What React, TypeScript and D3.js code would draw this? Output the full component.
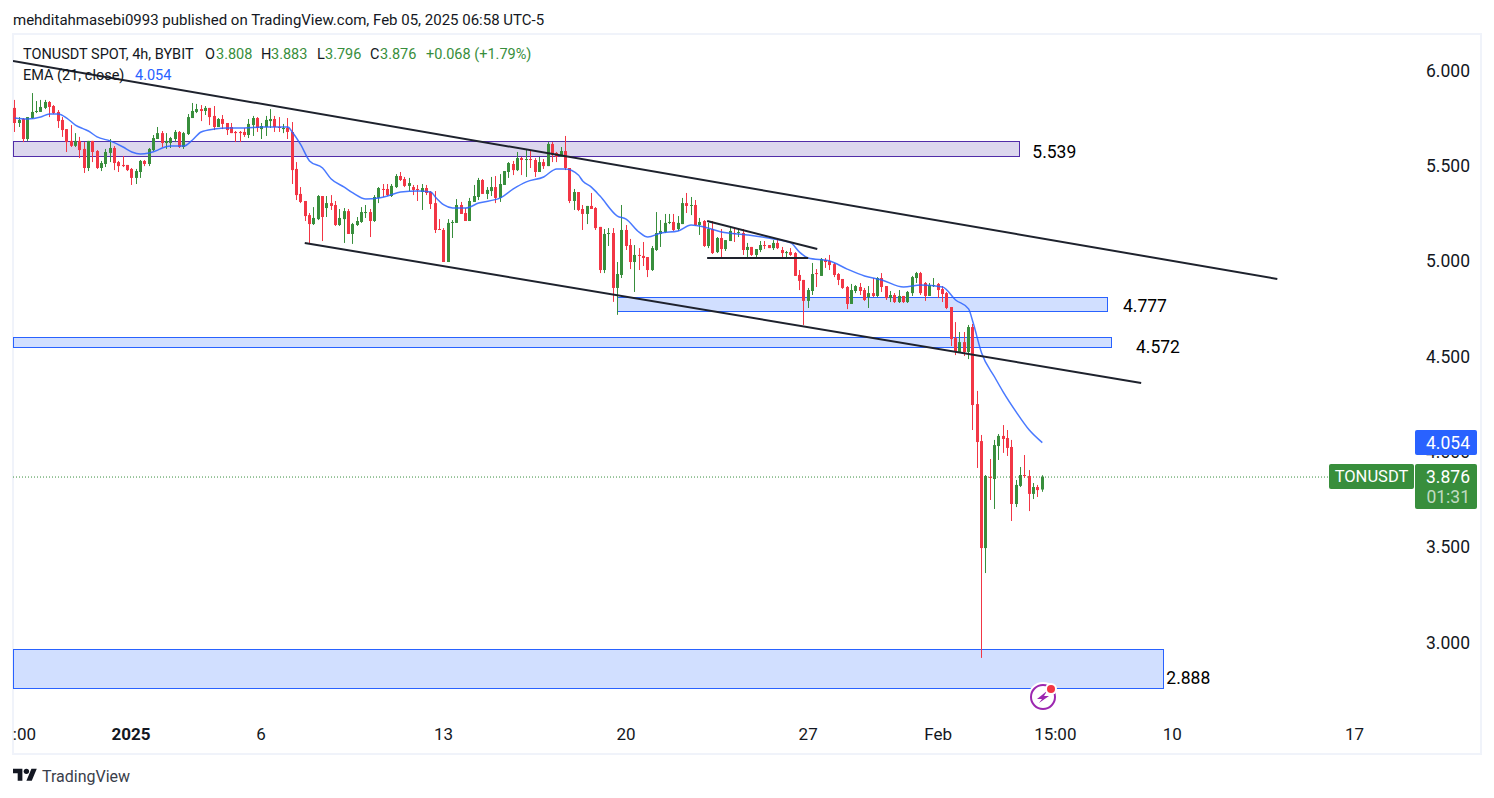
import { useEffect, useRef } from "react";
import * as d3 from "d3";

const opens = [5.809,5.730,5.751,5.646,5.756,5.788,5.788,5.809,5.840,5.819,5.788,5.746,5.698,5.636,5.610,5.636,5.594,5.494,5.636,5.583,5.494,5.515,5.573,5.599,5.525,5.510,5.510,5.489,5.442,5.473,5.531,5.515,5.588,5.646,5.677,5.625,5.625,5.646,5.683,5.604,5.672,5.756,5.788,5.803,5.793,5.809,5.767,5.709,5.751,5.730,5.709,5.683,5.683,5.683,5.667,5.719,5.756,5.698,5.709,5.740,5.751,5.709,5.698,5.704,5.683,5.489,5.358,5.321,5.247,5.200,5.226,5.347,5.284,5.310,5.300,5.195,5.226,5.268,5.148,5.195,5.211,5.258,5.263,5.216,5.337,5.384,5.384,5.347,5.394,5.452,5.436,5.400,5.394,5.384,5.368,5.389,5.368,5.310,5.174,5.169,5.001,5.206,5.206,5.300,5.258,5.216,5.316,5.342,5.431,5.358,5.373,5.394,5.337,5.405,5.473,5.515,5.483,5.546,5.536,5.541,5.536,5.473,5.525,5.504,5.620,5.573,5.552,5.583,5.494,5.321,5.368,5.279,5.253,5.295,5.284,5.185,4.959,5.148,5.153,4.865,4.933,5.169,5.090,5.001,5.038,5.033,5.027,4.959,5.064,5.148,5.158,5.206,5.211,5.174,5.200,5.310,5.298,5.300,5.195,5.216,5.085,5.174,5.053,5.127,5.069,5.111,5.153,5.153,5.153,5.064,5.080,5.038,5.064,5.090,5.090,5.074,5.101,5.064,5.048,5.053,5.048,4.933,4.907,4.797,4.849,4.943,4.928,5.012,5.006,4.990,4.938,4.912,4.870,4.781,4.849,4.870,4.854,4.817,4.838,4.823,4.917,4.875,4.812,4.828,4.791,4.823,4.791,4.838,4.917,4.943,4.891,4.823,4.875,4.886,4.859,4.838,4.765,4.602,4.529,4.581,4.529,4.660,4.256,4.062,3.501,3.874,3.863,4.036,4.089,4.078,4.031,3.732,3.827,3.884,3.879,3.785,3.821,3.808];
const highs = [5.851,5.761,5.756,5.761,5.887,5.845,5.851,5.851,5.845,5.824,5.798,5.761,5.698,5.719,5.677,5.657,5.630,5.636,5.636,5.588,5.531,5.594,5.646,5.609,5.531,5.557,5.510,5.494,5.489,5.536,5.536,5.599,5.667,5.709,5.688,5.677,5.657,5.693,5.688,5.683,5.777,5.835,5.830,5.824,5.819,5.809,5.819,5.756,5.772,5.730,5.730,5.688,5.688,5.704,5.751,5.767,5.761,5.730,5.767,5.803,5.767,5.761,5.725,5.756,5.735,5.525,5.394,5.321,5.258,5.289,5.352,5.347,5.347,5.352,5.321,5.279,5.284,5.279,5.206,5.237,5.289,5.300,5.279,5.352,5.394,5.410,5.410,5.410,5.462,5.473,5.447,5.442,5.405,5.405,5.410,5.405,5.373,5.373,5.226,5.179,5.226,5.221,5.331,5.316,5.284,5.337,5.405,5.442,5.436,5.394,5.447,5.452,5.462,5.478,5.525,5.531,5.578,5.552,5.588,5.583,5.546,5.552,5.541,5.630,5.630,5.578,5.604,5.662,5.494,5.384,5.368,5.300,5.295,5.363,5.289,5.185,5.174,5.179,5.179,5.001,5.300,5.195,5.122,5.090,5.074,5.106,5.027,5.085,5.263,5.221,5.253,5.253,5.253,5.242,5.337,5.363,5.342,5.326,5.232,5.221,5.206,5.216,5.132,5.174,5.116,5.185,5.179,5.174,5.174,5.101,5.080,5.069,5.111,5.111,5.090,5.116,5.116,5.080,5.059,5.074,5.053,4.959,4.907,4.865,4.996,4.964,5.022,5.022,5.038,4.996,4.943,4.912,4.875,4.886,4.880,4.891,4.865,4.875,4.917,4.922,4.943,4.875,4.849,4.838,4.854,4.823,4.849,4.928,4.949,4.949,4.896,4.891,4.917,4.891,4.875,4.844,4.765,4.686,4.634,4.634,4.671,4.676,4.325,4.094,3.884,3.968,4.068,4.099,4.146,4.120,4.068,3.858,3.926,3.989,3.910,3.842,3.832,3.883];
const lows = [5.683,5.709,5.630,5.636,5.751,5.782,5.788,5.803,5.761,5.777,5.704,5.657,5.578,5.604,5.604,5.546,5.468,5.478,5.525,5.489,5.478,5.499,5.525,5.483,5.473,5.499,5.478,5.405,5.410,5.442,5.504,5.504,5.583,5.646,5.604,5.594,5.599,5.630,5.599,5.594,5.667,5.756,5.782,5.740,5.772,5.719,5.693,5.709,5.698,5.667,5.677,5.630,5.630,5.657,5.651,5.662,5.683,5.646,5.662,5.704,5.683,5.683,5.677,5.646,5.410,5.326,5.310,5.216,5.101,5.195,5.221,5.111,5.237,5.274,5.190,5.190,5.101,5.148,5.096,5.190,5.206,5.232,5.132,5.211,5.310,5.342,5.347,5.342,5.389,5.426,5.394,5.373,5.352,5.321,5.274,5.352,5.279,5.153,5.169,5.001,5.001,5.127,5.206,5.253,5.216,5.216,5.316,5.326,5.358,5.331,5.347,5.310,5.316,5.405,5.442,5.457,5.478,5.457,5.447,5.494,5.447,5.473,5.489,5.504,5.525,5.525,5.552,5.483,5.310,5.274,5.268,5.169,5.200,5.279,5.169,4.943,4.943,5.085,4.792,4.724,4.917,5.064,4.964,4.844,4.959,4.980,4.922,4.954,5.059,5.080,5.153,5.200,5.164,5.164,5.200,5.258,5.247,5.190,5.143,5.080,5.074,5.043,5.048,5.022,5.059,5.111,5.106,5.132,5.038,5.017,5.033,5.022,5.053,5.069,5.074,5.064,5.069,5.027,5.022,5.033,4.928,4.854,4.671,4.760,4.828,4.870,4.928,4.970,4.959,4.922,4.880,4.860,4.754,4.781,4.838,4.828,4.797,4.760,4.817,4.817,4.844,4.802,4.791,4.786,4.786,4.786,4.786,4.823,4.891,4.828,4.797,4.823,4.870,4.812,4.791,4.754,4.560,4.513,4.524,4.508,4.492,4.120,3.921,2.925,3.370,3.753,3.706,3.963,4.000,3.984,3.643,3.716,3.821,3.869,3.695,3.758,3.769,3.796];
const closes = [5.730,5.746,5.646,5.761,5.788,5.793,5.814,5.840,5.814,5.782,5.740,5.693,5.630,5.610,5.636,5.588,5.494,5.636,5.578,5.494,5.520,5.578,5.599,5.520,5.504,5.504,5.483,5.442,5.478,5.531,5.515,5.594,5.651,5.677,5.625,5.636,5.651,5.683,5.604,5.677,5.761,5.793,5.803,5.793,5.809,5.761,5.709,5.751,5.725,5.693,5.677,5.677,5.677,5.667,5.725,5.756,5.704,5.714,5.746,5.751,5.709,5.704,5.704,5.683,5.483,5.352,5.316,5.242,5.200,5.232,5.347,5.237,5.310,5.295,5.195,5.232,5.268,5.148,5.200,5.216,5.263,5.263,5.216,5.342,5.389,5.379,5.352,5.400,5.452,5.431,5.400,5.415,5.379,5.379,5.389,5.363,5.305,5.169,5.169,5.001,5.206,5.211,5.300,5.253,5.216,5.321,5.347,5.431,5.358,5.379,5.394,5.337,5.410,5.478,5.520,5.483,5.546,5.536,5.541,5.536,5.473,5.525,5.504,5.620,5.562,5.552,5.583,5.494,5.321,5.368,5.274,5.253,5.295,5.279,5.179,4.959,5.148,5.153,4.865,4.938,5.169,5.085,5.001,5.038,5.033,5.022,4.959,5.074,5.153,5.164,5.206,5.211,5.169,5.206,5.310,5.295,5.300,5.195,5.211,5.085,5.174,5.048,5.127,5.069,5.116,5.164,5.150,5.158,5.064,5.080,5.038,5.069,5.090,5.085,5.074,5.101,5.074,5.048,5.053,5.038,4.928,4.902,4.797,4.854,4.938,4.938,5.017,5.001,4.985,4.933,4.907,4.865,4.781,4.854,4.875,4.849,4.802,4.838,4.823,4.917,4.870,4.812,4.828,4.791,4.823,4.791,4.844,4.922,4.943,4.838,4.823,4.880,4.880,4.854,4.833,4.760,4.597,4.529,4.581,4.529,4.660,4.251,4.057,3.501,3.879,3.869,4.041,4.089,4.073,4.026,3.732,3.832,3.884,3.879,3.785,3.821,3.805,3.876];

// EMA(21) at these bars
const emaBars = [0,3,6,8,10,12,14,16,17,19,22,25,27,29,31,33,34,36,39,41,43,46,49,53,57,63,64,66,68,71,73,76,78,81,84,86,89,93,96,97,99,101,104,107,112,115,118,122,125,127,130,131,133,135,139,141,144,146,149,153,156,159,163,169,175,179,181,183,188,192,196,200,205,209,214,217,220,221,223,226,228,231,234,237];
const emaValues = [5.756,5.751,5.761,5.777,5.777,5.756,5.719,5.698,5.688,5.657,5.636,5.604,5.578,5.567,5.573,5.588,5.599,5.609,5.609,5.641,5.683,5.698,5.704,5.704,5.709,5.709,5.683,5.615,5.531,5.494,5.436,5.394,5.363,5.331,5.337,5.347,5.368,5.373,5.368,5.342,5.300,5.284,5.284,5.310,5.337,5.384,5.421,5.447,5.489,5.489,5.457,5.426,5.394,5.347,5.242,5.226,5.158,5.132,5.153,5.164,5.195,5.185,5.158,5.143,5.122,5.101,5.053,5.022,5.006,4.964,4.928,4.907,4.870,4.880,4.870,4.802,4.755,4.686,4.524,4.398,4.319,4.214,4.120,4.054];

const priceTicks = [6, 5.5, 5, 4.5, 4, 3.5, 3];
const timeTickLabels = ["15:00", "2025", "6", "13", "20", "27", "Feb", "15:00", "10", "17"];
const timeTickBars = [0.05, 26.8, 56.8, 98.9, 141, 183, 213, 240, 267, 309];

// x1, price1, x2, price2 in bars
const trendLines = [
  [-0.4, 6.055, 291.2, 4.912],
  [66.9, 5.101, 259.8, 4.367],
  [159.7, 5.216, 185.1, 5.069],
  [159.7, 5.022, 183, 5.022],
];

const zoneFrom = [-0.4, 139, -0.4, -0.4];
const zoneTo = [231.7, 251.9, 252.9, 264.9];
const zoneTop = [5.633, 4.815, 4.608, 2.972];
const zoneBottom = [5.554, 4.739, 4.553, 2.768];
const zoneFill = ["#dcd7ee", "#d1dfff", "#d1dfff", "#d1dfff"];
const zoneStroke = ["#512da8", "#2962ff", "#2962ff", "#2962ff"];

const levelLabels = ["5.539", "4.777", "4.572", "2.888"];
const levelBars = [234.7, 255.6, 258.6, 265.6];
const levelPrices = [5.571, 4.764, 4.55, 2.814];

const UP = "#388e3c";
const DOWN = "#f23645";
const EMA = "#2962ff";
const INK = "#131722";
const FONT = "Roboto, sans-serif";

function App() {
  const svgRef = useRef<SVGSVGElement | null>(null);

  useEffect(() => {
    const svg = d3.select(svgRef.current);
    svg.selectAll("*").remove();

    const xScale = d3.scaleLinear().domain([0, 237]).range([14.7, 1042.3]);
    const yScale = d3.scaleLinear().domain([6, 3]).range([71.5, 643.6]);
    const paneLeft = 13;
    const paneRight = 1414;

    const defs = svg.append("defs");
    defs.append("clipPath").attr("id", "pane-clip")
      .append("rect").attr("x", paneLeft).attr("y", 35).attr("width", paneRight - paneLeft).attr("height", 718);
    defs.append("clipPath").attr("id", "axis-clip")
      .append("rect").attr("x", paneLeft).attr("y", 720).attr("width", 1400).attr("height", 33);

    svg.append("rect").attr("width", 1494).attr("height", 798).attr("fill", "#fff");

    // frame
    svg.append("rect").attr("x", 13).attr("y", 34).attr("width", 1468).attr("height", 720)
      .attr("fill", "none").attr("stroke", "#f0f3fa").attr("stroke-width", 2);

    svg.append("text").attr("x", 13).attr("y", 25)
      .attr("font-family", FONT).attr("font-size", 15).attr("fill", INK)
      .text("mehditahmasebi0993 published on TradingView.com, Feb 05, 2025 06:58 UTC-5");

    const pane = svg.append("g").attr("clip-path", "url(#pane-clip)");

    // zones sit under the candles
    zoneFrom.forEach((from, i) => {
      pane.append("rect")
        .attr("x", Math.round(xScale(from)) + 0.5)
        .attr("y", Math.round(yScale(zoneTop[i])) + 0.5)
        .attr("width", Math.round(xScale(zoneTo[i]) - xScale(from)))
        .attr("height", Math.round(yScale(zoneBottom[i]) - yScale(zoneTop[i])))
        .attr("fill", zoneFill[i])
        .attr("stroke", zoneStroke[i]).attr("stroke-width", 1);
    });

    // last price line
    pane.append("line")
      .attr("x1", paneLeft).attr("x2", 1330)
      .attr("y1", yScale(closes[closes.length - 1]) + 0.5).attr("y2", yScale(closes[closes.length - 1]) + 0.5)
      .attr("stroke", UP).attr("stroke-width", 1).attr("stroke-dasharray", "1 2");

    const candle = pane.selectAll("g.candle")
      .data(opens.map((o, i) => ({ i, o, h: highs[i], l: lows[i], c: closes[i] })))
      .join("g").attr("class", "candle")
      .attr("fill", d => (d.c >= d.o ? UP : DOWN));

    candle.append("rect")
      .attr("x", d => Math.floor(xScale(d.i)))
      .attr("y", d => yScale(d.h))
      .attr("width", 1)
      .attr("height", d => yScale(d.l) - yScale(d.h));

    candle.append("rect")
      .attr("x", d => Math.floor(xScale(d.i)) - 1)
      .attr("y", d => yScale(Math.max(d.o, d.c)))
      .attr("width", 3)
      .attr("height", d => Math.max(1, Math.abs(yScale(d.o) - yScale(d.c))));

    const emaLine = d3.line<number>()
      .x((_, i) => xScale(emaBars[i]))
      .y(d => yScale(d))
      .curve(d3.curveMonotoneX);

    pane.append("path")
      .attr("d", emaLine(emaValues))
      .attr("fill", "none").attr("stroke", EMA).attr("stroke-opacity", 0.85).attr("stroke-width", 1.5);

    pane.selectAll("line.trend")
      .data(trendLines)
      .join("line").attr("class", "trend")
      .attr("x1", d => xScale(d[0])).attr("y1", d => yScale(d[1]))
      .attr("x2", d => xScale(d[2])).attr("y2", d => yScale(d[3]))
      .attr("stroke", "#1e222d").attr("stroke-width", 2);

    levelLabels.forEach((label, i) => {
      svg.append("text")
        .attr("x", xScale(levelBars[i])).attr("y", yScale(levelPrices[i]))
        .attr("font-family", FONT).attr("font-size", 17.5).attr("fill", "#000")
        .attr("dominant-baseline", "middle")
        .text(label);
    });

    // legend
    const legendRow = (y: number, items: [string, number, string][]) => {
      items.forEach(([label, x, color]) => {
        svg.append("text").attr("x", x).attr("y", y)
          .attr("font-family", FONT).attr("font-size", 14.5).attr("fill", color).text(label);
      });
    };
    legendRow(59, [
      ["TONUSDT SPOT, 4h, BYBIT", 23, INK],
      ["O", 205, INK], ["3.808", 216, UP],
      ["H", 261, INK], ["3.883", 271, UP],
      ["L", 317, INK], ["3.796", 325, UP],
      ["C", 370, INK], ["3.876", 380, UP],
      ["+0.068 (+1.79%)", 426, UP],
    ]);
    legendRow(80, [
      ["EMA (21, close)", 23, INK],
      ["4.054", 135, EMA],
    ]);

    // price axis
    svg.selectAll("text.price-tick")
      .data(priceTicks)
      .join("text").attr("class", "price-tick")
      .attr("x", 1470).attr("y", d => yScale(d) + 0.5)
      .attr("text-anchor", "end").attr("dominant-baseline", "middle")
      .attr("font-family", FONT).attr("font-size", 17.5).attr("fill", INK)
      .text(d => d3.format(".3f")(d));

    svg.append("rect").attr("x", 1415).attr("y", 430).attr("width", 62).attr("height", 25).attr("rx", 2).attr("fill", EMA);
    svg.append("text").attr("x", 1470).attr("y", 444).attr("text-anchor", "end").attr("dominant-baseline", "middle")
      .attr("font-family", FONT).attr("font-size", 17.5).attr("fill", "#fff").text(d3.format(".3f")(4.054));

    svg.append("rect").attr("x", 1329).attr("y", 464).attr("width", 85).attr("height", 25).attr("rx", 2).attr("fill", UP);
    svg.append("text").attr("x", 1371.5).attr("y", 478).attr("text-anchor", "middle").attr("dominant-baseline", "middle")
      .attr("font-family", FONT).attr("font-size", 16.5).attr("fill", "#fff").text("TONUSDT");

    svg.append("rect").attr("x", 1415).attr("y", 464).attr("width", 62).attr("height", 45).attr("rx", 2).attr("fill", UP);
    svg.append("text").attr("x", 1470).attr("y", 478).attr("text-anchor", "end").attr("dominant-baseline", "middle")
      .attr("font-family", FONT).attr("font-size", 17.5).attr("fill", "#fff").text(d3.format(".3f")(3.876));
    svg.append("text").attr("x", 1470).attr("y", 498).attr("text-anchor", "end").attr("dominant-baseline", "middle")
      .attr("font-family", FONT).attr("font-size", 17.5).attr("fill", "#fff").attr("fill-opacity", 0.7).text("01:31");

    // time axis
    svg.append("g").attr("clip-path", "url(#axis-clip)")
      .selectAll("text")
      .data(timeTickLabels)
      .join("text")
      .attr("x", (_, i) => xScale(timeTickBars[i]))
      .attr("y", 736)
      .attr("text-anchor", "middle").attr("dominant-baseline", "middle")
      .attr("font-family", FONT).attr("font-size", 17).attr("fill", INK)
      .attr("font-weight", d => (d === "2025" ? 700 : 400))
      .text(d => d);

    // data window icon
    const icon = svg.append("g").attr("transform", "translate(1043,697)");
    icon.append("circle").attr("r", 15).attr("fill", "#fff");
    icon.append("circle").attr("r", 12).attr("fill", "#fff").attr("stroke", "#9c27b0").attr("stroke-width", 2);
    icon.append("path").attr("d", "M4 -6 L-6 2 L-1 2 L-4 6 L6 -1 L1 -1 Z").attr("fill", "#9c27b0");
    icon.append("circle").attr("cx", 8).attr("cy", -8).attr("r", 6).attr("fill", "#fff");
    icon.append("circle").attr("cx", 8).attr("cy", -8).attr("r", 4).attr("fill", DOWN);

    // footer logo
    const logo = svg.append("g").attr("transform", "translate(13,766) scale(0.67)").attr("fill", INK);
    logo.append("path").attr("d", "M14 22H7V11H0V4h14v18zM28 22h-8l7.5-18h8L28 22z");
    logo.append("circle").attr("cx", 20).attr("cy", 8).attr("r", 4);
    svg.append("text").attr("x", 42).attr("y", 782)
      .attr("font-family", FONT).attr("font-size", 16).attr("fill", "#3a3e4a").text("TradingView");
  }, []);

  return (
    <div>
      <svg ref={svgRef} width={1494} height={798} style={{ position: "absolute", left: 0, top: 0, display: "block" }} />
    </div>
  );
}

export default App;
